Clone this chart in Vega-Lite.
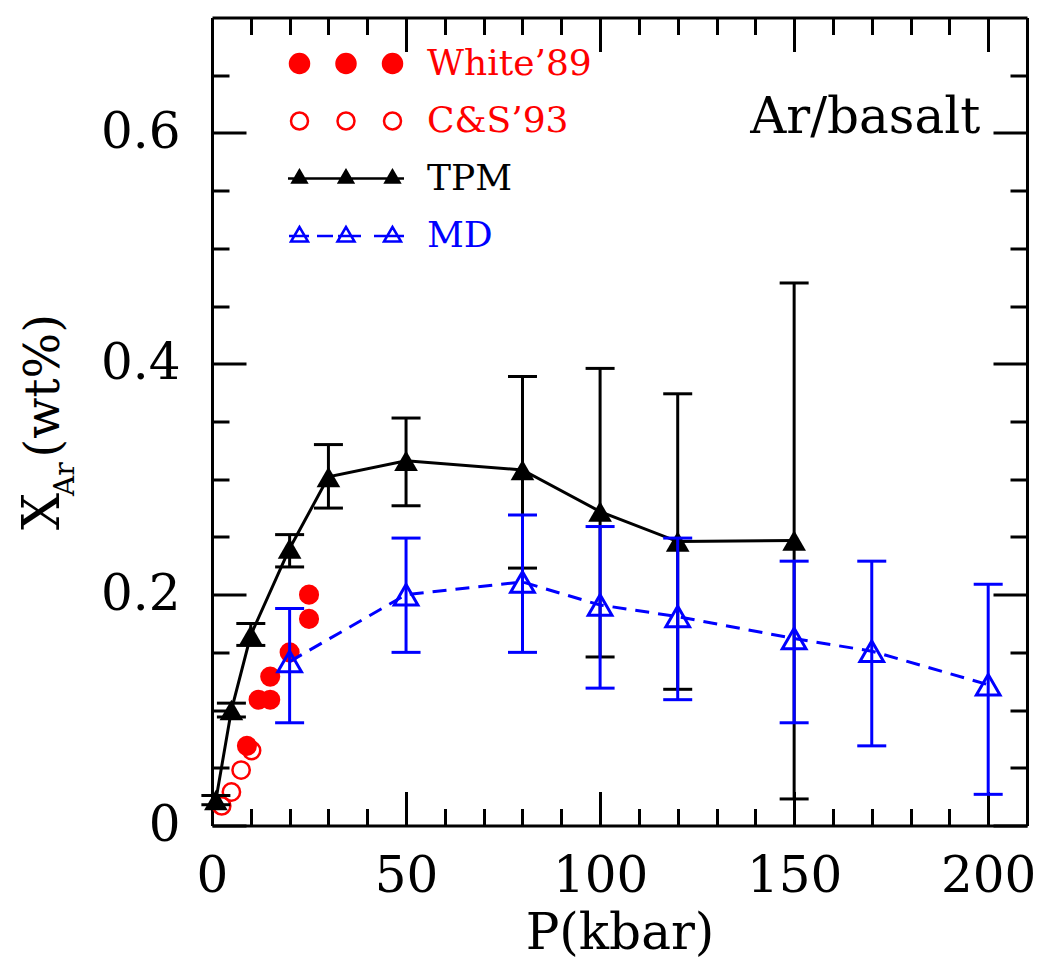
{
  "$schema": "https://vega.github.io/schema/vega-lite/v6.json",
  "width": 815,
  "height": 808,
  "autosize": {"type": "none"},
  "padding": {"left": 212, "top": 17.5, "right": 11, "bottom": 152.5},
  "background": "white",
  "config": {
    "view": {"stroke": null},
    "axis": {
      "domainColor": "black", "domainWidth": 3, "tickColor": "black", "tickWidth": 3,
      "labelFont": "DejaVu Serif", "labelFontSize": 50, "labelColor": "black", "labelFlush": false,
      "titleFont": "DejaVu Serif", "titleFontWeight": "normal", "titleColor": "black", "grid": false
    },
    "text": {"font": "DejaVu Serif"}
  },
  "resolve": {"axis": {"x": "independent", "y": "independent"}},
  "datasets": {
    "white": [
      {"series": "White’89", "P": 9, "X": 0.069},
      {"series": "White’89", "P": 12, "X": 0.109},
      {"series": "White’89", "P": 15, "X": 0.109},
      {"series": "White’89", "P": 15, "X": 0.129},
      {"series": "White’89", "P": 20, "X": 0.150},
      {"series": "White’89", "P": 25, "X": 0.179},
      {"series": "White’89", "P": 25, "X": 0.200}
    ],
    "cs": [
      {"series": "C&S’93", "P": 2.5, "X": 0.017},
      {"series": "C&S’93", "P": 5, "X": 0.029},
      {"series": "C&S’93", "P": 7.5, "X": 0.048},
      {"series": "C&S’93", "P": 10.2, "X": 0.065}
    ],
    "tpm": [
      {"series": "TPM", "P": 1, "X": 0.022, "lo": 0.018, "hi": 0.026},
      {"series": "TPM", "P": 5, "X": 0.100, "lo": 0.094, "hi": 0.106},
      {"series": "TPM", "P": 10, "X": 0.165, "lo": 0.156, "hi": 0.175},
      {"series": "TPM", "P": 20, "X": 0.240, "lo": 0.224, "hi": 0.252},
      {"series": "TPM", "P": 30, "X": 0.302, "lo": 0.275, "hi": 0.330},
      {"series": "TPM", "P": 50, "X": 0.316, "lo": 0.277, "hi": 0.353},
      {"series": "TPM", "P": 80, "X": 0.308, "lo": 0.223, "hi": 0.389},
      {"series": "TPM", "P": 100, "X": 0.272, "lo": 0.146, "hi": 0.396},
      {"series": "TPM", "P": 120, "X": 0.246, "lo": 0.118, "hi": 0.374},
      {"series": "TPM", "P": 150, "X": 0.247, "lo": 0.023, "hi": 0.470}
    ],
    "md": [
      {"series": "MD", "P": 20, "X": 0.142, "lo": 0.089, "hi": 0.188},
      {"series": "MD", "P": 50, "X": 0.200, "lo": 0.150, "hi": 0.249},
      {"series": "MD", "P": 80, "X": 0.211, "lo": 0.150, "hi": 0.269},
      {"series": "MD", "P": 100, "X": 0.191, "lo": 0.119, "hi": 0.259},
      {"series": "MD", "P": 120, "X": 0.181, "lo": 0.109, "hi": 0.249},
      {"series": "MD", "P": 150, "X": 0.162, "lo": 0.089, "hi": 0.229},
      {"series": "MD", "P": 170, "X": 0.151, "lo": 0.069, "hi": 0.229},
      {"series": "MD", "P": 200, "X": 0.122, "lo": 0.027, "hi": 0.209}
    ],
    "note": [{"label": "Ar/basalt"}]
  },
  "layer": [
    {
      "data": {"name": "white"},
      "mark": {"type": "point", "filled": true, "size": 310, "strokeWidth": 2.5, "opacity": 1},
      "encoding": {
        "x": {"field": "P", "type": "quantitative",
          "scale": {"domain": [0, 210], "nice": false, "zero": false},
          "axis": {"orient": "bottom", "values": [0, 50, 100, 150, 200], "ticks": false, "labelPadding": 26, "domain": true,
            "title": "P(kbar)", "titleFontSize": 50, "titleY": 123, "titleBaseline": "alphabetic"}},
        "y": {"field": "X", "type": "quantitative",
          "scale": {"domain": [0, 0.7], "nice": false, "zero": false},
          "axis": {"orient": "left", "values": [0, 0.2, 0.4, 0.6], "format": "~g", "ticks": false, "labelPadding": 32, "domain": true,
            "title": "X", "titleFontSize": 52, "titleAngle": -90, "titleAlign": "left", "titleBaseline": "alphabetic", "titleX": -154, "titleY": 512}},
        "fill": {"field": "series", "type": "nominal",
          "scale": {"domain": ["White’89", "C&S’93", "TPM", "MD"], "range": ["#ff0000", "transparent", "#000000", "transparent"]},
          "legend": {
            "orient": "none", "legendX": 116, "legendY": 28, "title": null, "padding": 0,
            "labelFont": "DejaVu Serif", "labelFontSize": 36, "labelOffset": 63, "labelLimit": 400,
            "rowPadding": 21.5, "symbolSize": 400, "symbolStrokeWidth": 2.5,
            "labelColor": {"expr": "datum.value === 'TPM' ? '#000000' : datum.value === 'MD' ? '#0000ff' : '#ff0000'"},
            "symbolType": {"expr": "datum.value === 'White’89' ? 'M-5.6,0C-5.6,-0.525 -5.175,-0.95 -4.65,-0.95C-4.125,-0.95 -3.7,-0.525 -3.7,0C-3.7,0.525 -4.125,0.95 -4.65,0.95C-5.175,0.95 -5.6,0.525 -5.6,0ZM-0.95,0C-0.95,-0.525 -0.525,-0.95 0,-0.95C0.525,-0.95 0.95,-0.525 0.95,0C0.95,0.525 0.525,0.95 0,0.95C-0.525,0.95 -0.95,0.525 -0.95,0ZM3.7,0C3.7,-0.525 4.125,-0.95 4.65,-0.95C5.175,-0.95 5.6,-0.525 5.6,0C5.6,0.525 5.175,0.95 4.65,0.95C4.125,0.95 3.7,0.525 3.7,0Z' : datum.value === 'C&S’93' ? 'M-5.5,0C-5.5,-0.469 -5.119,-0.85 -4.65,-0.85C-4.181,-0.85 -3.8,-0.469 -3.8,0C-3.8,0.469 -4.181,0.85 -4.65,0.85C-5.119,0.85 -5.5,0.469 -5.5,0ZM-0.85,0C-0.85,-0.469 -0.469,-0.85 0,-0.85C0.469,-0.85 0.85,-0.469 0.85,0C0.85,0.469 0.469,0.85 0,0.85C-0.469,0.85 -0.85,0.469 -0.85,0ZM3.8,0C3.8,-0.469 4.181,-0.85 4.65,-0.85C5.119,-0.85 5.5,-0.469 5.5,0C5.5,0.469 5.119,0.85 4.65,0.85C4.181,0.85 3.8,0.469 3.8,0Z' : datum.value === 'TPM' ? 'M-5.8,0L5.8,0M-4.65,-0.8L-5.35,0.4L-3.95,0.4ZM0,-0.8L-0.7,0.4L0.7,0.4ZM4.65,-0.8L3.95,0.4L5.35,0.4Z' : 'M-5.7,0L-3.7,0M-2.9,0L-1.3,0M-0.8,0L1.5,0M2.8,0L5.8,0M-4.65,-0.9L-5.5,0.55L-3.8,0.55ZM0,-0.9L-0.85,0.55L0.85,0.55ZM4.65,-0.9L3.8,0.55L5.5,0.55Z'"}
          }},
        "stroke": {"field": "series", "type": "nominal",
          "scale": {"domain": ["White’89", "C&S’93", "TPM", "MD"], "range": ["#ff0000", "#ff0000", "#000000", "#0000ff"]},
          "legend": {
            "orient": "none", "legendX": 116, "legendY": 28, "title": null, "padding": 0,
            "labelFont": "DejaVu Serif", "labelFontSize": 36, "labelOffset": 63, "labelLimit": 400,
            "rowPadding": 21.5, "symbolSize": 400, "symbolStrokeWidth": 2.5,
            "labelColor": {"expr": "datum.value === 'TPM' ? '#000000' : datum.value === 'MD' ? '#0000ff' : '#ff0000'"},
            "symbolType": {"expr": "datum.value === 'White’89' ? 'M-5.6,0C-5.6,-0.525 -5.175,-0.95 -4.65,-0.95C-4.125,-0.95 -3.7,-0.525 -3.7,0C-3.7,0.525 -4.125,0.95 -4.65,0.95C-5.175,0.95 -5.6,0.525 -5.6,0ZM-0.95,0C-0.95,-0.525 -0.525,-0.95 0,-0.95C0.525,-0.95 0.95,-0.525 0.95,0C0.95,0.525 0.525,0.95 0,0.95C-0.525,0.95 -0.95,0.525 -0.95,0ZM3.7,0C3.7,-0.525 4.125,-0.95 4.65,-0.95C5.175,-0.95 5.6,-0.525 5.6,0C5.6,0.525 5.175,0.95 4.65,0.95C4.125,0.95 3.7,0.525 3.7,0Z' : datum.value === 'C&S’93' ? 'M-5.5,0C-5.5,-0.469 -5.119,-0.85 -4.65,-0.85C-4.181,-0.85 -3.8,-0.469 -3.8,0C-3.8,0.469 -4.181,0.85 -4.65,0.85C-5.119,0.85 -5.5,0.469 -5.5,0ZM-0.85,0C-0.85,-0.469 -0.469,-0.85 0,-0.85C0.469,-0.85 0.85,-0.469 0.85,0C0.85,0.469 0.469,0.85 0,0.85C-0.469,0.85 -0.85,0.469 -0.85,0ZM3.8,0C3.8,-0.469 4.181,-0.85 4.65,-0.85C5.119,-0.85 5.5,-0.469 5.5,0C5.5,0.469 5.119,0.85 4.65,0.85C4.181,0.85 3.8,0.469 3.8,0Z' : datum.value === 'TPM' ? 'M-5.8,0L5.8,0M-4.65,-0.8L-5.35,0.4L-3.95,0.4ZM0,-0.8L-0.7,0.4L0.7,0.4ZM4.65,-0.8L3.95,0.4L5.35,0.4Z' : 'M-5.7,0L-3.7,0M-2.9,0L-1.3,0M-0.8,0L1.5,0M2.8,0L5.8,0M-4.65,-0.9L-5.5,0.55L-3.8,0.55ZM0,-0.9L-0.85,0.55L0.85,0.55ZM4.65,-0.9L3.8,0.55L5.5,0.55Z'"}
          }}
      }
    },
    {
      "data": {"name": "cs"},
      "mark": {"type": "point", "shape": "circle", "filled": false, "size": 300, "strokeWidth": 2.5, "color": "#ff0000", "opacity": 1},
      "encoding": {
        "x": {"field": "P", "type": "quantitative",
          "axis": {"orient": "bottom", "values": [0, 50, 100, 150, 200], "labels": false, "domain": false, "tickSize": -34, "title": null}},
        "y": {"field": "X", "type": "quantitative",
          "axis": {"orient": "left", "values": [0, 0.2, 0.4, 0.6], "labels": false, "domain": false, "tickSize": -34,
            "title": "(wt%)", "titleFontSize": 48, "titleAngle": -90, "titleAlign": "left", "titleBaseline": "alphabetic", "titleX": -154, "titleY": 439.5}}
      }
    },
    {
      "data": {"name": "tpm"},
      "mark": {"type": "rule", "color": "#000000", "strokeWidth": 3},
      "encoding": {
        "x": {"field": "P", "type": "quantitative",
          "axis": {"orient": "bottom", "values": [10, 20, 30, 40, 60, 70, 80, 90, 110, 120, 130, 140, 160, 170, 180, 190], "labels": false, "domain": false, "tickSize": -17, "title": null}},
        "y": {"field": "lo", "type": "quantitative",
          "axis": {"orient": "left", "values": [0.05, 0.1, 0.15, 0.25, 0.3, 0.35, 0.45, 0.5, 0.55, 0.65], "labels": false, "domain": false, "tickSize": -17, "title": null}},
        "y2": {"field": "hi"}
      }
    },
    {
      "data": {"name": "tpm"},
      "mark": {"type": "tick", "orient": "horizontal", "size": 29, "thickness": 3, "color": "#000000", "opacity": 1},
      "encoding": {
        "x": {"field": "P", "type": "quantitative",
          "axis": {"orient": "top", "values": [0, 50, 100, 150, 200], "labels": false, "domain": true, "tickSize": -34, "title": null}},
        "y": {"field": "lo", "type": "quantitative",
          "axis": {"orient": "right", "values": [0, 0.2, 0.4, 0.6], "labels": false, "domain": true, "tickSize": -34,
            "title": "Ar", "titleFontSize": 28, "titleAngle": -90, "titleAlign": "left", "titleBaseline": "alphabetic", "titleX": -954, "titleY": 478}}
      }
    },
    {
      "data": {"name": "tpm"},
      "mark": {"type": "tick", "orient": "horizontal", "size": 29, "thickness": 3, "color": "#000000", "opacity": 1},
      "encoding": {
        "x": {"field": "P", "type": "quantitative",
          "axis": {"orient": "top", "values": [10, 20, 30, 40, 60, 70, 80, 90, 110, 120, 130, 140, 160, 170, 180, 190], "labels": false, "domain": false, "tickSize": -17, "title": null}},
        "y": {"field": "hi", "type": "quantitative",
          "axis": {"orient": "right", "values": [0.05, 0.1, 0.15, 0.25, 0.3, 0.35, 0.45, 0.5, 0.55, 0.65], "labels": false, "domain": false, "tickSize": -17, "title": null}}
      }
    },
    {
      "data": {"name": "tpm"},
      "mark": {"type": "line", "color": "#000000", "strokeWidth": 3},
      "encoding": {
        "x": {"field": "P", "type": "quantitative", "axis": null},
        "y": {"field": "X", "type": "quantitative", "axis": null}
      }
    },
    {
      "data": {"name": "tpm"},
      "mark": {"type": "point", "shape": "triangle-up", "filled": true, "size": 560, "color": "#000000", "opacity": 1},
      "encoding": {
        "x": {"field": "P", "type": "quantitative", "axis": null},
        "y": {"field": "X", "type": "quantitative", "axis": null}
      }
    },
    {
      "data": {"name": "md"},
      "mark": {"type": "rule", "color": "#0000ff", "strokeWidth": 3},
      "encoding": {
        "x": {"field": "P", "type": "quantitative", "axis": null},
        "y": {"field": "lo", "type": "quantitative", "axis": null},
        "y2": {"field": "hi"}
      }
    },
    {
      "data": {"name": "md"},
      "mark": {"type": "tick", "orient": "horizontal", "size": 29, "thickness": 3, "color": "#0000ff", "opacity": 1},
      "encoding": {
        "x": {"field": "P", "type": "quantitative", "axis": null},
        "y": {"field": "lo", "type": "quantitative", "axis": null}
      }
    },
    {
      "data": {"name": "md"},
      "mark": {"type": "tick", "orient": "horizontal", "size": 29, "thickness": 3, "color": "#0000ff", "opacity": 1},
      "encoding": {
        "x": {"field": "P", "type": "quantitative", "axis": null},
        "y": {"field": "hi", "type": "quantitative", "axis": null}
      }
    },
    {
      "data": {"name": "md"},
      "mark": {"type": "line", "color": "#0000ff", "strokeWidth": 3, "strokeDash": [14, 9]},
      "encoding": {
        "x": {"field": "P", "type": "quantitative", "axis": null},
        "y": {"field": "X", "type": "quantitative", "axis": null}
      }
    },
    {
      "data": {"name": "md"},
      "mark": {"type": "point", "shape": "triangle-up", "filled": false, "size": 560, "strokeWidth": 3, "color": "#0000ff", "opacity": 1},
      "encoding": {
        "x": {"field": "P", "type": "quantitative", "axis": null},
        "y": {"field": "X", "type": "quantitative", "axis": null}
      }
    },
    {
      "data": {"name": "note"},
      "mark": {"type": "text", "align": "right", "baseline": "alphabetic", "font": "DejaVu Serif", "fontSize": 50, "color": "#000000"},
      "encoding": {
        "text": {"field": "label"},
        "x": {"datum": 198, "type": "quantitative", "axis": null},
        "y": {"datum": 0.6, "type": "quantitative", "axis": null}
      }
    }
  ]
}
